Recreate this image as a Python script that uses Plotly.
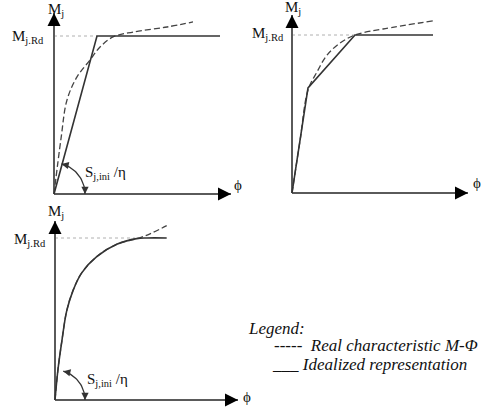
import numpy as np
import plotly.graph_objects as go

W, H = 496, 408

# Moment-rotation curves, M in units of M_j,Rd, phi in arbitrary rotation units
# Panel 1: bilinear idealisation with initial stiffness S_j,ini/eta
p1_real_phi = [0, 0.07, 0.13, 0.23, 0.36, 0.46, 0.59, 0.79, 1.13, 1.39]
p1_real_m = [0, 0.35, 0.595, 0.741, 0.848, 0.930, 0.994, 1.025, 1.057, 1.089]
p1_ideal_phi = [0, 0.43, 1.66]
p1_ideal_m = [0, 1.0, 1.0]

# Panel 2: trilinear idealisation
p2_real_phi = [0, 0.08, 0.16, 0.25, 0.35, 0.48, 0.63, 0.91, 1.41]
p2_real_m = [0, 0.33, 0.652, 0.766, 0.873, 0.949, 1.0, 1.038, 1.089]
p2_ideal_phi = [0, 0.16, 0.63, 1.41]
p2_ideal_m = [0, 0.665, 1.0, 1.0]

# Panel 3: non-linear idealisation, capped at M_j,Rd
p3_ideal_phi = [0, 0.03, 0.07, 0.117, 0.183, 0.267, 0.417, 0.617, 0.817, 0.917, 1.117]
p3_ideal_m = [0, 0.19, 0.37, 0.55, 0.68, 0.785, 0.885, 0.961, 0.996, 1.0, 1.0]
p3_real_phi = [0.817, 0.95, 1.117]
p3_real_m = [0.996, 1.026, 1.076]

M_RD = 1.0

# Pixel placement of each panel's origin, units and axis tips
panels = [
    dict(ox=54, oy=194, ux=100, uy=158, ytip=13, xtip=231, dot_end=0.43,
         mj=(56, 10), mrd=(46, 37), phi=(238, 185), s=(83, 173), arc=(31, 76)),
    dict(ox=292, oy=193, ux=100, uy=158, ytip=15, xtip=468, dot_end=0.63,
         mj=(293, 8), mrd=(286, 34), phi=(477, 183), s=None, arc=None),
    dict(ox=55, oy=400, ux=100, uy=162, ytip=221, xtip=238, dot_end=0.80,
         mj=(56, 212), mrd=(48, 240), phi=(247, 397), s=(85, 380), arc=(30, 74)),
]

curves = [
    (p1_real_phi, p1_real_m, p1_ideal_phi, p1_ideal_m),
    (p2_real_phi, p2_real_m, p2_ideal_phi, p2_ideal_m),
    (p3_ideal_phi[:-2] + p3_real_phi[1:], p3_ideal_m[:-2] + p3_real_m[1:], p3_ideal_phi, p3_ideal_m),
]

SERIF = "Liberation Serif"
AXIS_C = "#5a5a5a"
CURVE_C = "#333333"
TEXT_C = "#111111"

fig = go.Figure()
annotations = []
layout_axes = {}


def to_data(p, px, py):
    return (px - p["ox"]) / p["ux"], (p["oy"] - py) / p["uy"]


for i, (p, (rx, ry, ix, iy)) in enumerate(zip(panels, curves)):
    n = "" if i == 0 else str(i + 1)
    xa, ya = "x" + n, "y" + n
    layout_axes["xaxis" + n] = dict(
        domain=[0, 1], range=[-p["ox"] / p["ux"], (W - p["ox"]) / p["ux"]],
        visible=False, fixedrange=True, anchor=ya,
        **({} if i == 0 else dict(overlaying="x")))
    layout_axes["yaxis" + n] = dict(
        domain=[0, 1], range=[-(H - p["oy"]) / p["uy"], p["oy"] / p["uy"]],
        visible=False, fixedrange=True, anchor=xa,
        **({} if i == 0 else dict(overlaying="y")))

    xtip, _ = to_data(p, p["xtip"], p["oy"])
    _, ytip = to_data(p, p["ox"], p["ytip"])

    # dotted reference level M_j,Rd
    fig.add_trace(go.Scatter(x=[0, p["dot_end"]], y=[M_RD, M_RD], mode="lines",
                             line=dict(color="#b0b0b0", width=1, dash="dot"),
                             xaxis=xa, yaxis=ya, hoverinfo="skip"))
    # axes
    fig.add_trace(go.Scatter(x=[0, 0, None, 0, xtip], y=[0, ytip, None, 0, 0], mode="lines",
                             line=dict(color=AXIS_C, width=2),
                             xaxis=xa, yaxis=ya, hoverinfo="skip"))
    annotations.append(dict(x=0, y=ytip, xref=xa, yref=ya, ax=0, ay=10, text="",
                            showarrow=True, arrowhead=2, arrowsize=1.3, arrowwidth=2,
                            arrowcolor="black"))
    annotations.append(dict(x=xtip, y=0, xref=xa, yref=ya, ax=-10, ay=0, text="",
                            showarrow=True, arrowhead=2, arrowsize=1.3, arrowwidth=2,
                            arrowcolor="black"))

    # real characteristic (dashed) and idealised representation (solid)
    fig.add_trace(go.Scatter(x=rx, y=ry, mode="lines", line_shape="spline",
                             line=dict(color="#444444", width=1.3, dash="6px,3px"),
                             xaxis=xa, yaxis=ya, hoverinfo="skip"))
    fig.add_trace(go.Scatter(x=ix, y=iy, mode="lines",
                             line_shape="spline" if i == 2 else "linear",
                             line=dict(color=CURVE_C, width=1.6),
                             xaxis=xa, yaxis=ya, hoverinfo="skip"))

    # labels
    x, y = to_data(p, *p["mj"])
    annotations.append(dict(x=x, y=y, xref=xa, yref=ya, text="M<sub>j</sub>",
                            showarrow=False, font=dict(family=SERIF, size=15, color=TEXT_C)))
    x, y = to_data(p, *p["mrd"])
    annotations.append(dict(x=x, y=y, xref=xa, yref=ya, text="M<sub>j.Rd</sub>",
                            xanchor="right", showarrow=False,
                            font=dict(family=SERIF, size=15, color=TEXT_C)))
    x, y = to_data(p, *p["phi"])
    annotations.append(dict(x=x, y=y, xref=xa, yref=ya, text="ϕ",
                            showarrow=False, font=dict(family=SERIF, size=15, color=TEXT_C)))
    if p["s"]:
        x, y = to_data(p, *p["s"])
        annotations.append(dict(x=x, y=y, xref=xa, yref=ya, text="S<sub>j,ini</sub> /η",
                                xanchor="left", showarrow=False,
                                font=dict(family=SERIF, size=15, color=TEXT_C)))
    if p["arc"]:
        r, a1 = p["arc"]
        t = np.radians(np.linspace(a1, 0, 30))
        ax_ = r * np.cos(t) / p["ux"]
        ay_ = r * np.sin(t) / p["uy"]
        fig.add_trace(go.Scatter(x=ax_, y=ay_, mode="lines",
                                 line=dict(color=CURVE_C, width=1.3),
                                 xaxis=xa, yaxis=ya, hoverinfo="skip"))
        ta = np.radians(a1)
        annotations.append(dict(x=ax_[0], y=ay_[0], xref=xa, yref=ya, text="",
                                ax=7 * np.sin(ta), ay=7 * np.cos(ta) * 0.3 + 1,
                                showarrow=True, arrowhead=2, arrowsize=1.2, arrowwidth=1.2,
                                arrowcolor=CURVE_C))
        annotations.append(dict(x=ax_[-1], y=ay_[-1], xref=xa, yref=ya, text="",
                                ax=0, ay=-7, showarrow=True, arrowhead=2, arrowsize=1.2,
                                arrowwidth=1.2, arrowcolor=CURVE_C))


def paper(px, py):
    return px / W, 1 - py / H


legend_items = [
    ("<i>Legend:</i>", 246, 328),
    ("<i>-----  Real characteristic M-Φ</i>", 272, 345),
    ("<i>___ Idealized representation</i>", 270, 364),
]
for txt, px, py in legend_items:
    x, y = paper(px, py)
    annotations.append(dict(x=x, y=y, xref="paper", yref="paper", text=txt,
                            xanchor="left", yanchor="middle", showarrow=False,
                            font=dict(family=SERIF, size=17, color=TEXT_C)))

fig.update_layout(
    width=W, height=H, margin=dict(l=0, r=0, t=0, b=0),
    paper_bgcolor="white", plot_bgcolor="white", showlegend=False,
    annotations=annotations, **layout_axes)

fig.write_html("out.html", config={"displayModeBar": False})
